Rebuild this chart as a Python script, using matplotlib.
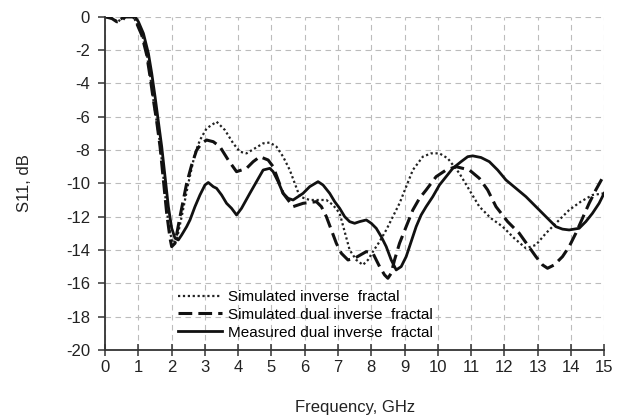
"""S11 return loss of the inverse fractal antennas."""
import matplotlib
matplotlib.use('Agg')
import matplotlib.pyplot as plt

# ─── data ───────────────────────────────────────────────────────────
f_sim_inv = [0, 0.2, 0.4, 0.5, 0.85, 0.95, 1.1, 1.25, 1.35, 1.45, 1.55, 1.65,
             1.75, 1.85, 1.95, 2.05, 2.15, 2.3, 2.5, 2.7, 2.85, 3.05, 3.35,
             3.6, 3.85, 4.05, 4.25, 4.5, 4.75, 4.95, 5.15, 5.35, 5.55, 5.85,
             6.15, 6.4, 6.65, 6.85, 7.05, 7.35, 7.55, 7.75, 7.9, 8.05, 8.25,
             8.45, 8.65, 8.85, 9.05, 9.25, 9.55, 9.8, 10.05, 10.3, 10.65,
             10.95, 11.25, 11.6, 11.95, 12.3, 12.65, 12.95, 13.25, 13.6,
             13.95, 14.3, 14.65, 15.0]
s11_sim_inv = [0, -0.1, -0.3, 0, 0, -0.4, -1.0, -2.2, -3.5, -5.0, -6.3, -7.6,
               -9.6, -11.6, -13.0, -13.6, -13.4, -12.0, -10.0, -8.2, -7.4,
               -6.7, -6.3, -6.8, -7.6, -8.1, -8.2, -7.9, -7.6, -7.55, -7.8,
               -8.4, -9.2, -10.8, -11.0, -11.0, -11.0, -11.3, -11.8, -14.0,
               -14.6, -14.9, -14.6, -14.1, -13.5, -12.8, -12.0, -11.2, -10.2,
               -9.2, -8.4, -8.2, -8.2, -8.5, -9.4, -10.4, -11.4, -12.1, -12.6,
               -13.3, -13.9, -13.7, -13.0, -12.3, -11.6, -11.1, -10.7, -10.6]

f_sim_dual = [0, 0.2, 0.35, 0.5, 0.6, 0.85, 0.95, 1.1, 1.25, 1.35, 1.45, 1.55,
              1.65, 1.75, 1.85, 1.95, 2.0, 2.1, 2.25, 2.45, 2.6, 2.75, 2.9,
              3.05, 3.25, 3.45, 3.7, 3.95, 4.25, 4.45, 4.65, 4.9, 5.05, 5.2,
              5.35, 5.65, 5.95, 6.35, 6.5, 6.65, 6.8, 6.95, 7.1, 7.3, 7.5,
              7.85, 8.05, 8.25, 8.4, 8.5, 8.6, 8.7, 8.85, 9.05, 9.25, 9.45,
              9.65, 9.95, 10.25, 10.55, 10.95, 11.25, 11.5, 11.75, 12.1,
              12.45, 12.7, 12.95, 13.15, 13.3, 13.5, 13.75, 13.95, 14.15,
              14.35, 14.55, 14.75, 15.0]
s11_sim_dual = [0, -0.1, -0.3, -0.25, 0, 0, -0.4, -1.1, -2.3, -3.6, -5.0,
                -6.3, -7.8, -9.8, -11.8, -13.3, -13.8, -13.6, -12.0, -10.0,
                -8.9, -8.0, -7.6, -7.4, -7.5, -7.8, -8.6, -9.3, -9.1, -8.7,
                -8.4, -8.6, -9.0, -9.8, -10.6, -11.4, -11.2, -11.1, -11.4,
                -12.0, -12.8, -13.6, -14.2, -14.6, -14.5, -14.1, -14.2, -15.0,
                -15.5, -15.7, -15.4, -14.6, -13.6, -12.6, -11.6, -10.9, -10.4,
                -9.6, -9.2, -9.0, -9.2, -9.7, -10.4, -11.4, -12.3, -13.0,
                -13.7, -14.4, -14.9, -15.1, -14.9, -14.4, -13.8, -13.0, -12.1,
                -11.2, -10.4, -9.5]

f_meas = [0.5, 0.6, 0.9, 1.0, 1.15, 1.3, 1.4, 1.5, 1.6, 1.7, 1.8, 1.9, 2.0,
          2.1, 2.2, 2.3, 2.45, 2.55, 2.7, 2.85, 3.0, 3.1, 3.25, 3.35, 3.5,
          3.65, 3.8, 3.95, 4.1, 4.35, 4.55, 4.75, 4.95, 5.05, 5.2, 5.35, 5.5,
          5.65, 5.8, 5.95, 6.15, 6.4, 6.55, 6.75, 6.9, 7.05, 7.2, 7.35, 7.5,
          7.65, 7.85, 8.0, 8.15, 8.3, 8.45, 8.6, 8.75, 8.9, 9.05, 9.2, 9.35,
          9.5, 9.65, 9.85, 10.05, 10.25, 10.45, 10.7, 10.9, 11.05, 11.3,
          11.55, 11.8, 12.05, 12.35, 12.65, 12.9, 13.15, 13.35, 13.55, 13.75,
          13.95, 14.25, 14.45, 14.65, 14.85, 15.0]
s11_meas = [-0.1, 0, 0, -0.3, -1.0, -2.2, -3.4, -4.8, -6.3, -7.8, -9.6, -11.4,
            -12.7, -13.3, -13.4, -13.1, -12.6, -12.2, -11.4, -10.7, -10.1,
            -9.95, -10.2, -10.3, -10.7, -11.2, -11.5, -11.9, -11.5, -10.6,
            -9.9, -9.2, -9.1, -9.3, -9.9, -10.6, -10.9, -11.0, -10.8, -10.6,
            -10.2, -9.9, -10.1, -10.6, -11.1, -11.5, -12.0, -12.3, -12.4,
            -12.3, -12.2, -12.4, -12.7, -13.2, -13.8, -14.6, -15.2, -15.0,
            -14.4, -13.5, -12.6, -11.9, -11.4, -10.8, -10.1, -9.6, -9.1, -8.7,
            -8.4, -8.35, -8.45, -8.7, -9.2, -9.8, -10.3, -10.8, -11.3, -11.8,
            -12.2, -12.6, -12.75, -12.8, -12.7, -12.3, -11.8, -11.2, -10.6]

labels = ['Simulated inverse  fractal',
          'Simulated dual inverse  fractal',
          'Measured dual inverse  fractal']

x_ticks = list(range(0, 16))
y_ticks = list(range(-20, 1, 2))

plt.rcParams['font.family'] = ['Liberation Sans', 'DejaVu Sans']
plt.rcParams['axes.unicode_minus'] = False

fig = plt.figure(figsize=(6.26, 4.20), dpi=100)
ax = fig.add_axes([0.168, 0.167, 0.797, 0.793])

ax.plot(f_sim_inv, s11_sim_inv, color='#222222', lw=1.6, ls=(0, (1, 1.2)),
        label=labels[0])
ax.plot(f_sim_dual, s11_sim_dual, color='#111111', lw=2.2, ls=(0, (4.5, 2)),
        label=labels[1])
ax.plot(f_meas, s11_meas, color='#111111', lw=2.0, label=labels[2])

ax.set_xlim(0, 15)
ax.set_ylim(-20, 0)
ax.set_xticks(x_ticks)
ax.set_yticks(y_ticks)
ax.grid(True, color='#bcbcbc', lw=0.8, ls=(0, (5, 4)))
ax.set_axisbelow(True)

for s in ('top', 'right'):
    ax.spines[s].set_visible(False)
for s in ('left', 'bottom'):
    ax.spines[s].set_color('#333333')
    ax.spines[s].set_linewidth(1.3)
ax.tick_params(axis='x', direction='inout', length=8, width=1.1,
               color='#333333', labelsize=12, labelcolor='#222222', pad=3)
ax.tick_params(axis='y', direction='out', length=5, width=1.1,
               color='#333333', labelsize=12, labelcolor='#222222', pad=6)

ax.set_xlabel('Frequency, GHz', fontsize=12, color='#222222', labelpad=18)
ax.set_ylabel('S11, dB', fontsize=12, color='#222222', labelpad=24)

ax.legend(loc='upper left', bbox_to_anchor=(0.146, 0.18), frameon=False,
          fontsize=11, handlelength=2.9, handletextpad=0.4,
          labelspacing=0.25, borderpad=0, borderaxespad=0)

fig.savefig('out.png', dpi=100, facecolor='white')
